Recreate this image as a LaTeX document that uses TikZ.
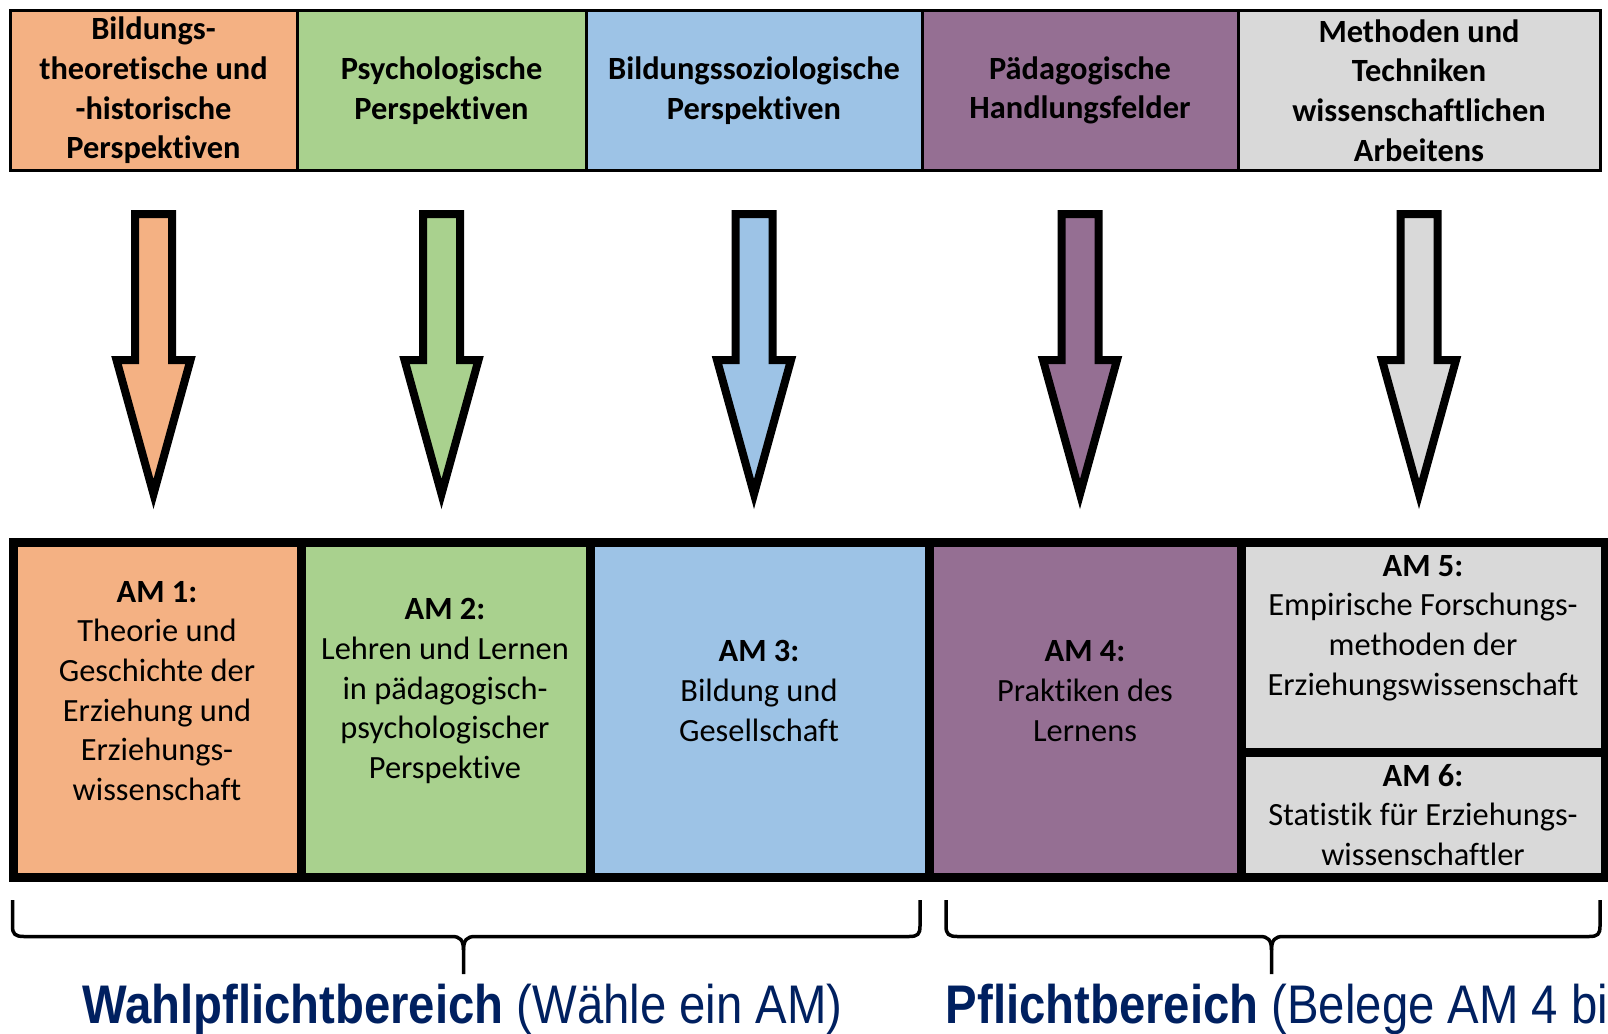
\documentclass[tikz,border=0pt]{standalone}
\usepackage{fontspec}
\setmainfont{Carlito}[Ligatures={NoCommon,NoContextual,NoRequired}]
\newfontfamily\arialfont{Liberation Sans}
\usetikzlibrary{calc}

\definecolor{orangeam}{HTML}{F4B183}
\definecolor{gruenam}{HTML}{A9D18E}
\definecolor{blauam}{HTML}{9DC3E6}
\definecolor{lilaam}{HTML}{956F93}
\definecolor{grauam}{HTML}{D9D9D9}
\definecolor{navyam}{HTML}{002060}

\tikzset{
  kopf/.style={draw=black, line width=3pt, outer sep=0pt, inner sep=0pt, minimum height=159pt, align=center, font=\bfseries\fontsize{32.4}{39.7}\selectfont},
  modul/.style={draw=black, line width=9pt, outer sep=0pt},
  modultext/.style={align=center, font=\fontsize{32.4}{39.7}\selectfont},
  pfeil/.style={draw=black, line width=8pt, line join=miter},
  klammer/.style={draw=black, line width=3.5pt},
  bereich/.style={text=navyam, anchor=base west, inner sep=0pt, font=\arialfont\fontsize{47.3}{54}\selectfont}
}

\begin{document}
\begin{tikzpicture}[x=1pt,y=-1pt]
\useasboundingbox (0,0) rectangle (1608,1033);
\fill[white] (0,0) rectangle (1608,1033);
% Perspektiven
\node[kopf, fill=orangeam, minimum width=287pt] (h1) at (153.5,90.5) {Bildungs-\\theoretische und\\-historische\\Perspektiven};
\node[kopf, fill=gruenam, minimum width=289pt] (h2) at (441.5,90.5) {Psychologische\\Perspektiven};
\node[kopf, fill=blauam, minimum width=336pt] (h3) at (754,90.5) {Bildungssoziologische\\Perspektiven};
\node[kopf, fill=lilaam, minimum width=316pt] (h4) at (1080,90.5) {Pädagogische\\Handlungsfelder};
\node[kopf, fill=grauam, minimum width=362pt] (h5) at (1419,90.5) {Methoden und\\Techniken\\wissenschaftlichen\\Arbeitens};
% Pfeile
\draw[pfeil, fill=orangeam] ($(h1.south)+(-18.5,44)$) -- ++(37,0) -- ++(0,146) -- ++(18.5,0) -- ++(-37,134) -- ++(-37,-134) -- ++(18.5,0) -- cycle;
\draw[pfeil, fill=gruenam] ($(h2.south)+(-18.5,44)$) -- ++(37,0) -- ++(0,146) -- ++(18.5,0) -- ++(-37,134) -- ++(-37,-134) -- ++(18.5,0) -- cycle;
\draw[pfeil, fill=blauam] ($(h3.south)+(-18.5,44)$) -- ++(37,0) -- ++(0,146) -- ++(18.5,0) -- ++(-37,134) -- ++(-37,-134) -- ++(18.5,0) -- cycle;
\draw[pfeil, fill=lilaam] ($(h4.south)+(-18.5,44)$) -- ++(37,0) -- ++(0,146) -- ++(18.5,0) -- ++(-37,134) -- ++(-37,-134) -- ++(18.5,0) -- cycle;
\draw[pfeil, fill=grauam] ($(h5.south)+(-18.5,44)$) -- ++(37,0) -- ++(0,146) -- ++(18.5,0) -- ++(-37,134) -- ++(-37,-134) -- ++(18.5,0) -- cycle;
% Module
\node[modul, fill=orangeam, minimum width=288pt, minimum height=335pt] (m1) at (157,710) {};
\node[modul, fill=gruenam, minimum width=289pt, minimum height=335pt] (m2) at (445.5,710) {};
\node[modul, fill=blauam, minimum width=339pt, minimum height=335pt] (m3) at (759.5,710) {};
\node[modul, fill=lilaam, minimum width=312pt, minimum height=335pt] (m4) at (1085,710) {};
%     AM 5 und AM 6
\node[modul, fill=grauam, minimum width=364pt, minimum height=209.5pt] (m5) at (1423,647.25) {};
\node[modul, fill=grauam, minimum width=364pt, minimum height=125.5pt] (m6) at (1423,814.75) {};
\node[modultext] (t1) at (157,691) {\textbf{AM 1:}\\Theorie und\\Geschichte der\\Erziehung und\\Erziehungs-\\wissenschaft};
\node[modultext] (t2) at (445,691) {\textbf{AM 2:}\\Lehren und Lernen\\in pädagogisch-\\psychologischer\\Perspektive};
\node[modultext] (t3) at (759,691) {\textbf{AM 3:}\\Bildung und\\Gesellschaft};
\node[modultext] (t4) at (1085,691) {\textbf{AM 4:}\\Praktiken des\\Lernens};
\node[modultext] (t5) at (1423,628) {\textbf{AM 5:}\\Empirische Forschungs-\\methoden der\\Erziehungswissenschaft};
\node[modultext] (t6) at (1423,815) {\textbf{AM 6:}\\Statistik für Erziehungs-\\wissenschaftler};
% Klammern
\draw[klammer] (12.5,900) -- (12.5,926) .. controls (12.5,934) and (15,936.5) .. (24,936.5) -- (452,936.5) .. controls (460,936.5) and (463.5,940) .. (463.5,950) -- (463.5,974);
\draw[klammer] (463.5,950) .. controls (463.5,940) and (467,936.5) .. (475,936.5) -- (909,936.5) .. controls (918,936.5) and (920,934) .. (920,926) -- (920,900);
\draw[klammer] (946,900) -- (946,926) .. controls (946,934) and (948.5,936.5) .. (957.5,936.5) -- (1260,936.5) .. controls (1268,936.5) and (1271.5,940) .. (1271.5,950) -- (1271.5,974);
\draw[klammer] (1271.5,950) .. controls (1271.5,940) and (1275,936.5) .. (1283,936.5) -- (1589,936.5) .. controls (1598,936.5) and (1600,934) .. (1600,926) -- (1600,900);
\node[bereich] (wahl) at (82,1023) {\scalebox{1}[1.15]{\textbf{Wahlpflichtbereich} (Wähle ein AM)}};
\node[bereich] (pflicht) at (945.5,1023) {\scalebox{1}[1.15]{\textbf{Pflichtbereich} (Belege AM 4 bi}};
\end{tikzpicture}
\end{document}
